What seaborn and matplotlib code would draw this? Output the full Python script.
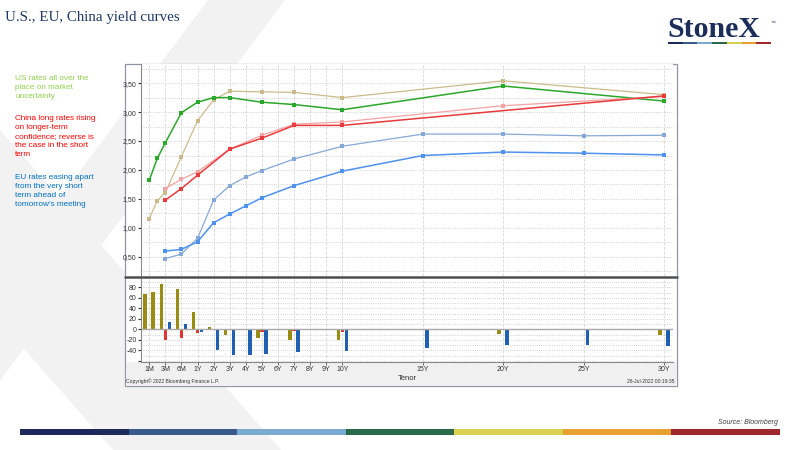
import numpy as np
import pandas as pd
import matplotlib.pyplot as plt
from matplotlib.patches import Rectangle, Polygon
from matplotlib.lines import Line2D
from matplotlib.ticker import FuncFormatter, MultipleLocator
import seaborn as sns

# Data (yields in %, changes in bp)
# --------------
US_TENORS = ['1M', '2M', '3M', '6M', '1Y', '2Y', '3Y', '5Y', '7Y', '10Y', '20Y', '30Y']
US_NOW = [1.82, 2.20, 2.47, 2.99, 3.17, 3.25, 3.25, 3.17, 3.13, 3.04, 3.45, 3.19]
US_PREV = [1.16, 1.47, 1.61, 2.23, 2.85, 3.21, 3.36, 3.35, 3.34, 3.25, 3.54, 3.30]
US_CHG = [67, 72, 86, 77, 33, 5, -10, -17, -20, -20, -9, -10]

CN_TENORS = ['3M', '6M', '1Y', '3Y', '5Y', '7Y', '10Y', '20Y', '30Y']
CN_NOW = [1.48, 1.68, 1.91, 2.36, 2.55, 2.77, 2.77, np.nan, 3.28]
CN_PREV = [1.68, 1.84, 1.97, 2.36, 2.60, 2.79, 2.83, 3.11, 3.27]
CN_CHG = [-20, -16, -6, 1, -4, -2, -5, np.nan, 1]

EU_TENORS = ['3M', '6M', '1Y', '2Y', '3Y', '4Y', '5Y', '7Y', '10Y', '15Y', '20Y', '25Y', '30Y']
EU_NOW = [0.60, 0.63, 0.76, 1.09, 1.24, 1.38, 1.52, 1.73, 1.98, 2.25, 2.31, 2.29, 2.26]
EU_PREV = [0.47, 0.55, 0.82, 1.48, 1.73, 1.88, 1.99, 2.19, 2.41, 2.62, 2.62, 2.59, 2.60]
EU_CHG = [14, 10, -5, -39, -49, -48, -46, -43, -41, -35, -30, -29, -32]

TICK_LABELS = ['1M', '3M', '6M', '1Y', '2Y', '3Y', '4Y', '5Y', '6Y', '7Y', '8Y', '9Y',
               '10Y', '15Y', '20Y', '25Y', '30Y']

NOTES = [
    ("US rates all over the\nplace on market\nuncertainty", '#92d050'),
    ("China long rates rising\non longer-term\nconfidence; reverse is\nthe case in the short\nterm", '#ff0000'),
    ("EU rates easing apart\nfrom the very short\nterm ahead of\ntomorrow's meeting", '#0070c0'),
]
STRIPE = ['#1f2a5c', '#3a5a8a', '#7aaad0', '#2a6a4a', '#d8d050', '#e8a030', '#a0282d']


def tenor_pos(t):
    # Bloomberg-style tenor axis: months squeezed, then one unit per year
    n = int(t[:-1])
    if t.endswith('M'):
        return float(np.interp(n, [1, 3, 6, 12], [0, 1, 2, 3]))
    return 2.0 + n


# Set-up
# --------------
sns.set_theme(style="white")
plt.rcParams['font.family'] = ['Liberation Sans', 'DejaVu Sans']

W, H = 800, 450
fig = plt.figure(figsize=(8, 4.5), dpi=100, facecolor='white')

# background layer in pixel coordinates
bg = fig.add_axes([0, 0, 1, 1], zorder=-1)
bg.set_xlim(0, W)
bg.set_ylim(H, 0)
bg.axis('off')

# faint watermark strokes
bg.add_patch(Polygon([(208, 0), (285, 0), (-52, 450), (-129, 450)], color='#f2f2f2', lw=0))
bg.add_patch(Polygon([(-283, 0), (-114, 0), (281, 450), (113, 450)], color='#f2f2f2', lw=0))

# chart panel
bg.add_patch(Rectangle((125, 64), 552, 322, facecolor='white', edgecolor='#9096a8', lw=0.9))
bg.add_patch(Rectangle((125.5, 362), 551, 23.5, facecolor='#f0f0f0', lw=0))
bg.text(126, 381.5, 'Copyright\u00a9 2022 Bloomberg Finance L.P.', fontsize=3.6,
        va='center', color='#333333')
bg.text(674, 381.5, '26-Jul-2022 00:19:35', fontsize=3.6, va='center', ha='right',
        color='#333333')

# title, notes, logo, stripe
bg.text(5, 17, 'U.S., EU, China yield curves', family='Liberation Serif', fontsize=10.8,
        color='#1f3864', va='center')
for (txt, col), y in zip(NOTES, [75, 115, 174]):
    bg.text(15, y, txt, fontsize=5.9, color=col, va='top', linespacing=1.4)

bg.text(667, 37, 'StoneX', family='Liberation Serif', weight='bold', fontsize=21.5,
        color='#1c2d5a', va='baseline')
bg.text(771, 22, '\u2122', fontsize=3.5, color='#1c2d5a', va='center')
seg = (771 - 668) / len(STRIPE)
for i, c in enumerate(STRIPE):
    bg.add_patch(Rectangle((668 + i * seg, 41.5), seg, 2.8, color=c, lw=0))
seg = (780 - 20) / len(STRIPE)
for i, c in enumerate(STRIPE):
    bg.add_patch(Rectangle((20 + i * seg, 429), seg, 6, color=c, lw=0))
bg.text(778, 423, 'Source: Bloomberg', fontsize=5, style='italic', ha='right',
        va='center', color='#404040')

# Chart axes
# --------------
left, right = 140.7 / W, (673 - 140.7) / W
ax1 = fig.add_axes([left, 1 - 276 / H, right, (276 - 64) / H], zorder=1)
ax2 = fig.add_axes([left, 1 - 362 / H, right, (362 - 277) / H], zorder=1)

curves = [
    (US_TENORS, US_PREV, '#cbbb8c', 0.9),
    (US_TENORS, US_NOW, '#2aa82a', 1.1),
    (CN_TENORS, CN_PREV, '#f3a3a3', 0.9),
    (CN_TENORS, CN_NOW, '#e83a3a', 1.1),
    (EU_TENORS, EU_PREV, '#86a8d6', 0.9),
    (EU_TENORS, EU_NOW, '#4f92ee', 1.1),
]
for tenors, vals, col, lw in curves:
    d = pd.DataFrame({'pos': [tenor_pos(t) for t in tenors], 'yld': vals}).dropna()
    sns.lineplot(data=d, x='pos', y='yld', color=col, linewidth=lw, marker='s',
                 markersize=2.4, markeredgewidth=0, ax=ax1)

bars = pd.concat([
    pd.DataFrame({'pos': [tenor_pos(t) for t in tn], 'chg': ch, 'mkt': m})
    for tn, ch, m in [(US_TENORS, US_CHG, 'US'), (CN_TENORS, CN_CHG, 'CN'),
                      (EU_TENORS, EU_CHG, 'EU')]
]).dropna()
sns.barplot(data=bars, x='pos', y='chg', hue='mkt', hue_order=['US', 'CN', 'EU'],
            palette={'US': '#9a8c12', 'CN': '#e03434', 'EU': '#1f5fb4'},
            native_scale=True, width=1.5, gap=0.12, errorbar=None, legend=False,
            saturation=1, linewidth=0, ax=ax2)
ax2.axhline(0, color='#a8a8a8', lw=1.0, zorder=1.5)

# Axes styling
# --------------
tick_pos = [tenor_pos(t) for t in TICK_LABELS]
for ax in (ax1, ax2):
    ax.set_facecolor('white')
    ax.set_xlim(-0.53, 32.55)
    ax.set_xticks(tick_pos)
    ax.grid(True, axis='x', linestyle='--', color='#d8d8d8', lw=0.6)
    ax.grid(True, axis='y', which='both', linestyle=':', color='#c4c4c4', lw=0.6)
    ax.set_axisbelow(True)
    ax.set_xlabel('')
    ax.set_ylabel('')
    for s in ('top', 'right'):
        ax.spines[s].set_visible(False)
    ax.spines['left'].set_color('#8a8a8a')
    ax.spines['left'].set_linewidth(0.8)
    ax.tick_params(axis='y', which='major', labelsize=5, length=2, width=0.8,
                   color='#333333', labelcolor='#333333', pad=1, left=True)
    ax.tick_params(axis='y', which='minor', length=0)

ax1.set_ylim(0.17, 3.83)
ax1.set_yticks(np.arange(0.5, 3.51, 0.5))
ax1.yaxis.set_minor_locator(MultipleLocator(0.25))
ax1.yaxis.set_major_formatter(FuncFormatter(lambda v, _: f"{v:.2f}".replace('.', ',')))
ax1.tick_params(axis='x', bottom=False, labelbottom=False)
ax1.spines['bottom'].set_visible(False)

ax2.set_ylim(-62, 100)
ax2.set_yticks(np.arange(-60, 81, 20))
ax2.set_yticklabels([''] + [str(v) for v in range(-40, 81, 20)])
ax2.yaxis.set_minor_locator(MultipleLocator(10))
ax2.set_xticklabels(TICK_LABELS)
ax2.tick_params(axis='x', labelsize=5, length=2, width=0.6, color='#555555',
                labelcolor='#333333', pad=1, bottom=True)
ax2.spines['bottom'].set_color('#8a8a8a')
ax2.spines['bottom'].set_linewidth(0.8)
ax2.set_xlabel('Tenor', fontsize=5.5, color='#333333', labelpad=1)

# thick separator between the panes
fig.add_artist(Line2D([125 / W, 677 / W], [1 - 276.5 / H] * 2, color='#505050', lw=1.8))

# Rendering
# --------------
fig.savefig('out.png', dpi=100, facecolor='white')
